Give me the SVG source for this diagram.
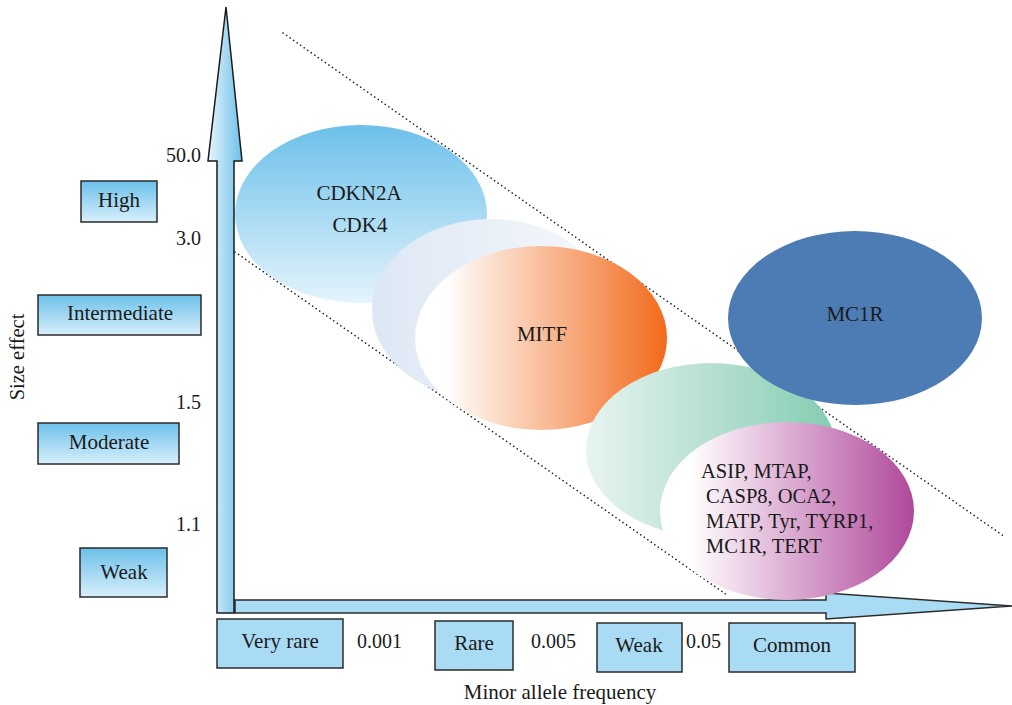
<svg xmlns="http://www.w3.org/2000/svg" width="1012" height="705" viewBox="0 0 1012 705">
<defs>
<linearGradient id="gVArrow" x1="0" y1="0" x2="1" y2="0">
<stop offset="0" stop-color="#e8f5fd"/>
<stop offset="1" stop-color="#6cc0ea"/>
</linearGradient>
<linearGradient id="gBox" x1="0" y1="0" x2="0" y2="1">
<stop offset="0" stop-color="#6cc0ea"/>
<stop offset="1" stop-color="#d8effb"/>
</linearGradient>
<linearGradient id="gBlue" x1="0" y1="0" x2="0" y2="1">
<stop offset="0" stop-color="#6cc0ea"/>
<stop offset="1" stop-color="#e4f4fc"/>
</linearGradient>
<linearGradient id="gLav" x1="0" y1="0" x2="1" y2="0">
<stop offset="0" stop-color="#dde7f4"/>
<stop offset="1" stop-color="#f7f9fc"/>
</linearGradient>
<linearGradient id="gOrange" x1="0" y1="0" x2="1" y2="0">
<stop offset="0.12" stop-color="#ffffff"/>
<stop offset="1" stop-color="#f26a1b"/>
</linearGradient>
<linearGradient id="gGreen" x1="0" y1="0" x2="1" y2="0">
<stop offset="0" stop-color="#e8f4f1"/>
<stop offset="1" stop-color="#84ccb1"/>
</linearGradient>
<linearGradient id="gPurple" x1="0" y1="0" x2="1" y2="0">
<stop offset="0.12" stop-color="#ffffff"/>
<stop offset="1" stop-color="#b0489b"/>
</linearGradient>
</defs>
<style>
text{font-family:"Liberation Serif",serif;fill:#1a1a1a;}
.lbl{font-size:21px;text-anchor:middle;}
.num{font-size:20px;text-anchor:end;}
.gene{font-size:21px;}
.glist{font-size:20.5px;}
.box{fill:url(#gBox);stroke:#2b2b2b;stroke-width:1.5;}
.fbox{fill:#a9dbf4;stroke:#2b2b2b;stroke-width:1.5;}
.dot{stroke:#222;stroke-width:1.6;stroke-dasharray:0.1 4.2;stroke-linecap:round;fill:none;}
</style>
<g id="axes">
<path d="M235,600 L826,600 L826,593 L1012,606 L826,619 L826,613 L235,613 Z" fill="#a9dbf4" stroke="#2b2b2b" stroke-width="1.5"/>
<path d="M226,7 L242,161 L234,161 L234,613 L217,613 L217,161 L208,161 Z" fill="url(#gVArrow)" stroke="#1a1a1a" stroke-width="1.5"/>
</g>
<g id="guides">
<line class="dot" x1="283" y1="33" x2="1005" y2="537"/>
<line class="dot" x1="235" y1="252" x2="727" y2="595"/>
</g>
<g id="cdkn2a">
<ellipse cx="361" cy="214" rx="126" ry="89" fill="url(#gBlue)"/>
<text class="lbl gene" x="359" y="200">CDKN2A</text>
<text class="lbl gene" x="360" y="232">CDK4</text>
</g>
<g id="lavender">
<ellipse cx="491" cy="310" rx="119" ry="91" fill="url(#gLav)"/>
</g>
<g id="mitf">
<ellipse cx="541" cy="338" rx="126" ry="92" fill="url(#gOrange)"/>
<text class="lbl gene" x="542" y="341">MITF</text>
</g>
<g id="green">
<ellipse cx="711" cy="450" rx="125" ry="87" fill="url(#gGreen)"/>
</g>
<g id="mc1r">
<ellipse cx="855" cy="318" rx="127" ry="87" fill="#4d7cb4"/>
<text class="lbl gene" x="855" y="321">MC1R</text>
</g>
<g id="lowgenes">
<ellipse cx="787" cy="511" rx="127" ry="89" fill="url(#gPurple)"/>
<text class="glist" x="701" y="478">ASIP, MTAP,</text>
<text class="glist" x="706" y="503">CASP8, OCA2,</text>
<text class="glist" x="706" y="528">MATP, Tyr, TYRP1,</text>
<text class="glist" x="706" y="553">MC1R, TERT</text>
</g>
<g id="effect-labels">
<g id="high"><rect class="box" x="81" y="181" width="76" height="41"/><text class="lbl" x="119" y="207">High</text></g>
<g id="intermediate"><rect class="box" x="38" y="295" width="163" height="40"/><text class="lbl" x="120" y="320">Intermediate</text></g>
<g id="moderate"><rect class="box" x="38" y="423" width="141" height="41"/><text class="lbl" x="109" y="449">Moderate</text></g>
<g id="weak-effect"><rect class="box" x="80" y="548" width="87" height="49"/><text class="lbl" x="124" y="579">Weak</text></g>
</g>
<g id="effect-values">
<text class="num" x="201" y="162">50.0</text>
<text class="num" x="201" y="245">3.0</text>
<text class="num" x="201" y="409">1.5</text>
<text class="num" x="201" y="531">1.1</text>
</g>
<g id="freq-labels">
<g id="veryrare"><rect class="fbox" x="217" y="619" width="126" height="49"/><text class="lbl" x="280" y="648">Very rare</text></g>
<g id="rare"><rect class="fbox" x="435" y="621" width="78" height="49"/><text class="lbl" x="474" y="650">Rare</text></g>
<g id="weak-freq"><rect class="fbox" x="597" y="623" width="85" height="49"/><text class="lbl" x="639" y="652">Weak</text></g>
<g id="common"><rect class="fbox" x="729" y="623" width="126" height="49"/><text class="lbl" x="792" y="652">Common</text></g>
<text style="font-size:20px" x="357" y="648">0.001</text>
<text style="font-size:20px" x="531" y="648">0.005</text>
<text style="font-size:20px" x="686" y="648">0.05</text>
</g>
<text class="lbl" x="560" y="699">Minor allele frequency</text>
<text class="lbl" style="font-size:20.5px" transform="translate(24,357) rotate(-90)">Size effect</text>
</svg>
